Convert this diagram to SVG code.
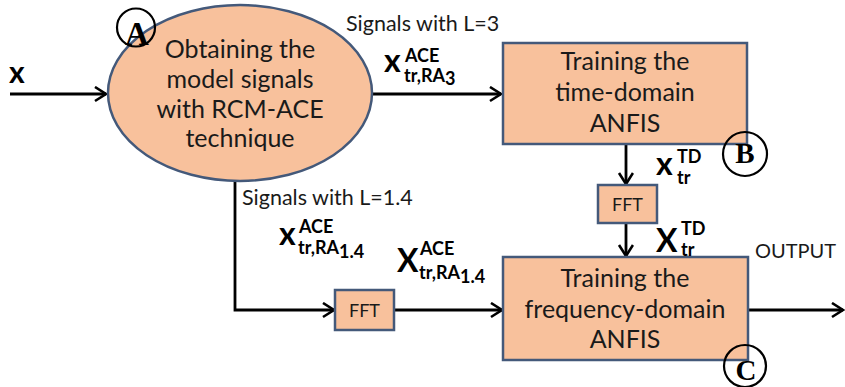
<svg xmlns="http://www.w3.org/2000/svg" width="845" height="387" viewBox="0 0 845 387">
<defs>
<marker id="ah" markerUnits="userSpaceOnUse" markerWidth="16" markerHeight="18" refX="13" refY="8" orient="auto">
<path d="M2,1 L13,8 L2,15" fill="none" stroke="#000" stroke-width="2.6" stroke-linejoin="miter"/>
</marker>
<style>
.shape{fill:#F8C19C;stroke:#44597A;stroke-width:2.5}
.lbl{font-family:Lato,"Liberation Sans",sans-serif;fill:#1a1a1a}
.node{font-size:25px;text-anchor:middle}
.sm{font-size:21.5px}
.math{font-family:Lato,"Liberation Sans",sans-serif;font-weight:bold;fill:#000}
.big{font-size:32px}
.sup{font-size:18px}
.tag{fill:none;stroke:#000;stroke-width:2.2}
.tagt{font-family:"Liberation Serif",serif;font-weight:bold;text-anchor:middle;fill:#000}
.conn{fill:none;stroke:#000;stroke-width:2.8}
</style>
</defs>
<rect width="845" height="387" fill="#fff"/>
<g id="connectors">
<path class="conn" d="M10,94 L106,94" marker-end="url(#ah)"/>
<path class="conn" d="M372,94 L501,94" marker-end="url(#ah)"/>
<path class="conn" d="M626,144 L626,184" marker-end="url(#ah)"/>
<path class="conn" d="M626,223 L626,256" marker-end="url(#ah)"/>
<path class="conn" d="M235,182 L235,310 L334,310" marker-end="url(#ah)"/>
<path class="conn" d="M394,310 L502,310" marker-end="url(#ah)"/>
<path class="conn" d="M748,310 L843,310" marker-end="url(#ah)"/>
</g>
<g id="input-label">
<text class="math" x="9" y="83" font-size="30">x</text>
</g>
<g id="nodeA">
<ellipse class="shape" cx="240" cy="93" rx="132" ry="88"/>
<text class="lbl node"><tspan x="240" y="58">Obtaining the</tspan><tspan x="240" y="88">model signals</tspan><tspan x="240" y="118">with RCM-ACE</tspan><tspan x="240" y="147">technique</tspan></text>
<circle class="tag" cx="136" cy="27.5" r="19"/>
<text class="tagt" x="137" y="45" font-size="33">A</text>
</g>
<g id="nodeB">
<rect class="shape" x="503" y="43" width="244" height="101"/>
<text class="lbl node"><tspan x="625" y="70">Training the</tspan><tspan x="625" y="101">time-domain</tspan><tspan x="625" y="132">ANFIS</tspan></text>
<circle class="tag" cx="745" cy="154" r="22"/>
<text class="tagt" x="745" y="163" font-size="29">B</text>
</g>
<g id="fft1">
<rect class="shape" x="598" y="185" width="59" height="38"/>
<text class="lbl" x="627.5" y="211" text-anchor="middle" font-size="18">FFT</text>
</g>
<g id="nodeC">
<rect class="shape" x="503" y="257" width="245" height="103"/>
<text class="lbl node"><tspan x="625" y="287">Training the</tspan><tspan x="625" y="318">frequency-domain</tspan><tspan x="625" y="348">ANFIS</tspan></text>
<circle class="tag" cx="745" cy="366" r="21"/>
<text class="tagt" x="746" y="380" font-size="29">C</text>
</g>
<g id="fft2">
<rect class="shape" x="335" y="290" width="59" height="40"/>
<text class="lbl" x="364.5" y="317" text-anchor="middle" font-size="18">FFT</text>
</g>
<g id="labels">
<text class="lbl sm" x="346" y="31">Signals with L=3</text>
<text class="lbl sm" x="242" y="205">Signals with L=1.4</text>
<text class="lbl" x="755" y="258" font-size="20">OUTPUT</text>
<text class="math"><tspan class="big" x="384" y="72">x</tspan><tspan class="sup" x="405" y="62">ACE</tspan><tspan class="sup" x="404" y="82">tr,RA</tspan><tspan class="sup" dy="3">3</tspan></text>
<text class="math"><tspan class="big" x="656" y="175">x</tspan><tspan class="sup" x="677" y="163">TD</tspan><tspan class="sup" x="677" y="184">tr</tspan></text>
<text class="math"><tspan class="big" x="656" y="252">X</tspan><tspan class="sup" x="681" y="235">TD</tspan><tspan class="sup" x="681" y="256">tr</tspan></text>
<text class="math"><tspan class="big" x="279" y="245">x</tspan><tspan class="sup" x="299" y="233">ACE</tspan><tspan class="sup" x="298" y="254">tr,RA</tspan><tspan class="sup" dy="4">1.4</tspan></text>
<text class="math"><tspan class="big" x="397" y="272">X</tspan><tspan class="sup" x="420" y="255">ACE</tspan><tspan class="sup" x="419" y="279">tr,RA</tspan><tspan class="sup" dy="4">1.4</tspan></text>
</g>
</svg>
